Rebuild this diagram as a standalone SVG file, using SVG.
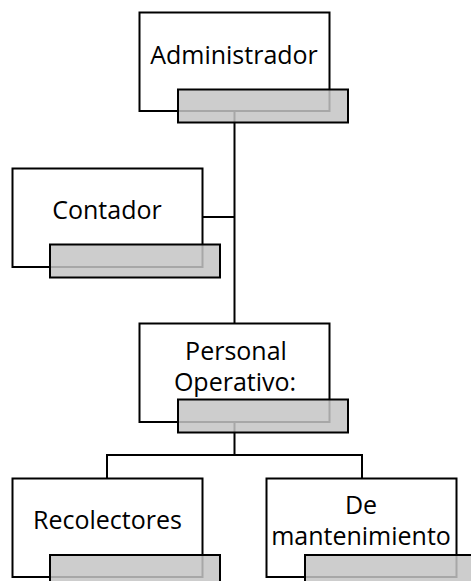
<svg xmlns="http://www.w3.org/2000/svg" width="471" height="581" viewBox="0 0 471 581">
<style>
.box{fill:#fff;stroke:#000;stroke-width:2}
.tab{fill:#c4c4c4;fill-opacity:0.85;stroke:#000;stroke-width:2}
.lbl{font-family:"Open Sans","Liberation Sans",sans-serif;font-size:25px;fill:#000;text-anchor:middle}
.con{fill:none;stroke:#000;stroke-width:2}
</style>
<rect width="471" height="581" fill="#fff"/>
<g id="connectors">
<path class="con" d="M234.5 111 V323"/>
<path class="con" d="M202 217 H234.5"/>
<path class="con" d="M234.5 422 V455 M107 478 V455 H362 V478"/>
</g>
<g id="administrador">
<rect class="box" x="139.5" y="12.5" width="190" height="98.5"/>
<rect class="tab" x="178" y="89.5" width="170" height="33"/>
<text class="lbl" x="234" y="64">Administrador</text>
</g>
<g id="contador">
<rect class="box" x="12.5" y="168.5" width="190" height="98.5"/>
<rect class="tab" x="50" y="244.5" width="170" height="33"/>
<text class="lbl" x="107" y="219">Contador</text>
</g>
<g id="personal">
<rect class="box" x="139.5" y="323.5" width="190" height="98.5"/>
<rect class="tab" x="178" y="399.5" width="170" height="33"/>
<text class="lbl" x="236" y="360">Personal</text>
<text class="lbl" x="235" y="391">Operativo:</text>
</g>
<g id="recolectores">
<rect class="box" x="12.5" y="478.5" width="190" height="98.5"/>
<rect class="tab" x="50" y="555" width="170" height="33"/>
<text class="lbl" x="107.5" y="529">Recolectores</text>
</g>
<g id="mantenimiento">
<rect class="box" x="266.5" y="478.5" width="190" height="98.5"/>
<rect class="tab" x="305" y="555" width="170" height="33"/>
<text class="lbl" x="361" y="514">De</text>
<text class="lbl" x="361" y="545">mantenimiento</text>
</g>
</svg>
